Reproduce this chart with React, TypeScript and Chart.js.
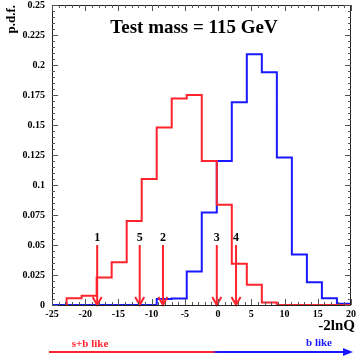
import React, { useEffect, useRef } from "react";
import { Chart, registerables } from "chart.js";

Chart.register(...registerables);

// Histogram bin left edges (-2lnQ), last entry closes the final bin
const binEdges = [-22.8, -20.54, -18.28, -16.02, -13.76, -11.5, -9.24, -6.98, -4.72, -2.46, -0.2, 2.06, 4.32, 6.58, 8.84, 11.1, 13.36, 15.62, 17.88, 20];
// s+b hypothesis p.d.f. (red)
const sbValues = [0.0057, 0.0077, 0.023, 0.0357, 0.07, 0.105, 0.148, 0.172, 0.175, 0.12, 0.0835, 0.0343, 0.0168, 0.002, 0, 0, 0, 0, 0];
// b-only hypothesis p.d.f. (blue)
const bValues = [0, 0, 0, 0, 0, 0, 0.005, 0.0055, 0.028, 0.077, 0.12, 0.169, 0.209, 0.194, 0.123, 0.042, 0.019, 0.0057, 0.001];
// observed candidate values
const obsValues = [-18.2, -11.8, -8.3, -0.2, 2.7];
const obsLabels = ["1", "5", "2", "3", "4"];
const obsArrowTop = 0.05;

const xMin = -25;
const xMax = 20;
const yMin = 0;
const yMax = 0.25;

const RED = "rgb(255,35,45)";
const BLUE = "rgb(25,25,255)";
const FONT = '"Liberation Serif", "DejaVu Serif", serif';

function histPoints(values: number[], startX: number | null) {
  const pts: { x: number; y: number }[] = [];
  pts.push({ x: startX !== null ? startX : binEdges[0], y: 0 });
  for (let i = 0; i < values.length; i++) {
    pts.push({ x: binEdges[i], y: values[i] });
  }
  pts.push({ x: binEdges[binEdges.length - 1], y: values[values.length - 1] });
  return pts;
}

const decorPlugin = {
  id: "decor",
  afterDatasetsDraw(chart: any) {
    const ctx = chart.ctx;
    const ca = chart.chartArea;
    const xs = chart.scales.x;
    const ys = chart.scales.y;
    ctx.save();

    // observed arrows
    ctx.strokeStyle = RED;
    ctx.fillStyle = "#000";
    ctx.lineWidth = 2;
    ctx.font = `bold 12px ${FONT}`;
    ctx.textAlign = "center";
    ctx.textBaseline = "alphabetic";
    obsValues.forEach((v, i) => {
      const px = xs.getPixelForValue(v);
      const top = ys.getPixelForValue(obsArrowTop);
      const bot = ys.getPixelForValue(0);
      ctx.beginPath();
      ctx.moveTo(px, top);
      ctx.lineTo(px, bot);
      ctx.stroke();
      ctx.beginPath();
      ctx.moveTo(px - 4.5, bot - 8);
      ctx.lineTo(px, bot);
      ctx.lineTo(px + 4.5, bot - 8);
      ctx.stroke();
      ctx.fillText(obsLabels[i], px, top - 4);
    });

    // frame
    ctx.strokeStyle = "#222";
    ctx.lineWidth = 1;
    ctx.strokeRect(Math.round(ca.left) + 0.5, Math.round(ca.top) + 0.5, Math.round(ca.right - ca.left) - 1, Math.round(ca.bottom - ca.top));

    // ticks
    ctx.strokeStyle = "#555";
    ctx.beginPath();
    for (let v = xMin; v <= xMax; v++) {
      const px = Math.round(xs.getPixelForValue(v)) + 0.5;
      const len = v % 5 === 0 ? 6 : 3;
      ctx.moveTo(px, ca.bottom);
      ctx.lineTo(px, ca.bottom - len);
      ctx.moveTo(px, ca.top);
      ctx.lineTo(px, ca.top + len);
    }
    for (let i = 0; i <= 50; i++) {
      const py = Math.round(ys.getPixelForValue(i * 0.005)) + 0.5;
      const len = i % 5 === 0 ? 6 : 3;
      ctx.moveTo(ca.left, py);
      ctx.lineTo(ca.left + len, py);
      ctx.moveTo(ca.right, py);
      ctx.lineTo(ca.right - len, py);
    }
    ctx.stroke();

    // title
    ctx.fillStyle = "#000";
    ctx.font = `bold 19px ${FONT}`;
    ctx.textAlign = "center";
    ctx.fillText("Test mass = 115 GeV", 194, 33);

    // axis titles
    ctx.font = `bold 15px ${FONT}`;
    ctx.textAlign = "right";
    ctx.fillText("-2lnQ", 355, 330);

    ctx.save();
    ctx.translate(15, 5);
    ctx.rotate(-Math.PI / 2);
    ctx.font = `bold 13px ${FONT}`;
    ctx.textAlign = "right";
    ctx.fillText("p.d.f.", 0, 0);
    ctx.restore();

    // bottom direction arrow
    const x0 = 49;
    const x1 = 353;
    const g = ctx.createLinearGradient(x0, 0, x1, 0);
    g.addColorStop(0, RED);
    g.addColorStop(0.535, RED);
    g.addColorStop(0.555, BLUE);
    g.addColorStop(1, BLUE);
    ctx.strokeStyle = g;
    ctx.lineWidth = 2;
    ctx.beginPath();
    ctx.moveTo(x0, 352);
    ctx.lineTo(x1 - 6, 352);
    ctx.stroke();
    ctx.fillStyle = BLUE;
    ctx.beginPath();
    ctx.moveTo(x1, 352);
    ctx.lineTo(x1 - 10, 348);
    ctx.lineTo(x1 - 10, 356);
    ctx.closePath();
    ctx.fill();

    ctx.font = `bold 11px ${FONT}`;
    ctx.textAlign = "center";
    ctx.fillStyle = RED;
    ctx.fillText("s+b like", 90, 347);
    ctx.fillStyle = BLUE;
    ctx.fillText("b like", 319, 346);

    ctx.restore();
  },
};

export default function App() {
  const ref = useRef<HTMLCanvasElement | null>(null);
  useEffect(() => {
    document.body.style.margin = "0";
    const canvas = ref.current;
    if (!canvas) return;
    const chart = new Chart(canvas, {
      type: "line",
      data: {
        datasets: [
          {
            label: "s+b",
            data: histPoints(sbValues, null),
            borderColor: RED,
            borderWidth: 2,
            pointRadius: 0,
            stepped: "before",
            fill: false,
          },
          {
            label: "b",
            data: histPoints(bValues, xMin),
            borderColor: BLUE,
            borderWidth: 2,
            pointRadius: 0,
            stepped: "before",
            fill: false,
          },
        ],
      },
      options: {
        responsive: false,
        animation: false,
        parsing: false,
        layout: { padding: { top: 5, right: 6, left: 0, bottom: 0 } },
        plugins: { legend: { display: false }, tooltip: { enabled: false } },
        scales: {
          x: {
            type: "linear",
            min: xMin,
            max: xMax,
            grid: { display: false, drawTicks: false },
            border: { display: false },
            ticks: {
              stepSize: 5,
              autoSkip: false,
              maxRotation: 0,
              padding: 3,
              color: "#000",
              font: { family: FONT, size: 10, weight: "bold" },
            },
            afterFit: (s: any) => {
              s.height = 52;
              s.paddingLeft = 0;
              s.paddingRight = 0;
            },
          },
          y: {
            type: "linear",
            min: yMin,
            max: yMax,
            grid: { display: false, drawTicks: false },
            border: { display: false },
            ticks: {
              stepSize: 0.025,
              autoSkip: false,
              padding: 7,
              color: "#000",
              font: { family: FONT, size: 10, weight: "bold" },
              callback: (v: any) => String(Number(Number(v).toFixed(3))),
            },
            afterFit: (s: any) => {
              s.width = 52;
              s.paddingTop = 0;
              s.paddingBottom = 0;
            },
          },
        },
      },
      plugins: [decorPlugin],
    });
    return () => chart.destroy();
  }, []);
  return (
    <div style={{ width: 357, height: 357, background: "#fff" }}>
      <canvas ref={ref} width={357} height={357} />
    </div>
  );
}
